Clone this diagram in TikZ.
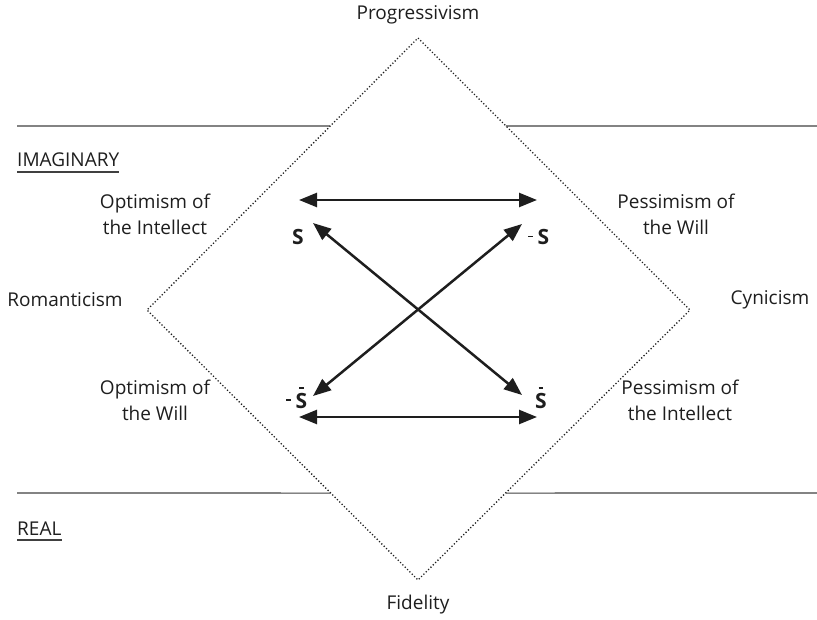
\documentclass[tikz,border=0pt]{standalone}
\usepackage{fontspec}
\setmainfont{Open Sans}
\usetikzlibrary{arrows.meta,calc}
\definecolor{ink}{HTML}{1E1E1E}
\newcommand\sbar{\setbox0\hbox{S}\rlap{\hbox to \wd0{\hss\raisebox{19.5pt}{\rule{4.5pt}{1.7pt}}\hss}}\box0}
\newcommand\shyph{\rule[7.5pt]{4.5pt}{1.9pt}\hspace{5pt}}
\begin{document}
\begin{tikzpicture}[x=1pt,y=-1pt,
  lbl/.style={font=\fontsize{19}{26}\selectfont, text=ink, align=center, inner sep=0pt},
  sym/.style={font=\fontsize{21}{24}\selectfont\bfseries, text=ink, inner sep=0pt, anchor=base west},
  rule/.style={draw=ink!85, line width=1.1pt},
  dia/.style={draw=ink, line width=1.3pt, dash pattern=on 1.2pt off 2.1pt},
  arr/.style={draw=ink, line width=2.5pt, {Triangle[length=18pt,width=14pt]}-{Triangle[length=18pt,width=14pt]}}]
\useasboundingbox (0,0) rectangle (817,620);
% diamond
\coordinate (top) at (418,38);
\coordinate (bot) at (418,580);
\coordinate (lft) at (147,310);
\coordinate (rgt) at (690,310);
\draw[dia] (top) -- (rgt) -- (bot) -- (lft) -- cycle;
% horizontal rules
\coordinate (r1a) at (17,126);
\coordinate (r1b) at ($(top)!0.3235!(lft)$);
\coordinate (r1c) at ($(top)!0.3235!(rgt)$);
\coordinate (r1d) at (817,126);
\coordinate (r2a) at (17,493);
\coordinate (r2b) at ($(lft)!0.678!(bot)$);
\coordinate (r2c) at ($(rgt)!0.678!(bot)$);
\coordinate (r2d) at (817,493);
\draw[rule] (r1a) -- (r1b);
\draw[rule] (r1c) -- (r1d);
\draw[rule] (r2a) -- (r2b);
\draw[rule] (r2c) -- (r2d);
% labels
\node[lbl] (prog) at (418,15) {Progressivism};
\node[lbl] (fid) at (418,605) {Fidelity};
\node[lbl] (rom) at (65,300) {Romanticism};
\node[lbl] (cyn) at (770,300) {Cynicism};
\node[lbl] (oi) at (155,214) {Optimism of\\the Intellect};
\node[lbl] (pw) at (676,214) {Pessimism of\\the Will};
\node[lbl] (ow) at (155,400) {Optimism of\\the Will};
\node[lbl] (pi) at (680,400) {Pessimism of\\the Intellect};
\node[lbl, anchor=base west] (imag) at (17,167) {IMAGINARY};
\node[lbl, anchor=base west] (real) at (17,535) {REAL};
\draw[rule] ([yshift=-5pt]imag.base west) -- ([yshift=-5pt]imag.base east);
\draw[rule] ([yshift=-5pt]real.base west) -- ([yshift=-5pt]real.base east);
% symbols
\node[sym] (s1) at (292,245) {S};
\node[sym] (s2) at (528,245) {\shyph S};
\node[sym] (s3) at (286,408) {\shyph\sbar};
\node[sym] (s4) at (535,408) {\sbar};
% arrows
\coordinate (a1) at (299,200);
\coordinate (a2) at (537,200);
\coordinate (b1) at (299,417);
\coordinate (b2) at (537,417);
\coordinate (d1) at (313,223);
\coordinate (d2) at (522,395);
\coordinate (e1) at (522,224);
\coordinate (e2) at (313,396);
\draw[arr] (a1) -- (a2);
\draw[arr] (b1) -- (b2);
\draw[arr] (d1) -- (d2);
\draw[arr] (e1) -- (e2);
\end{tikzpicture}
\end{document}
